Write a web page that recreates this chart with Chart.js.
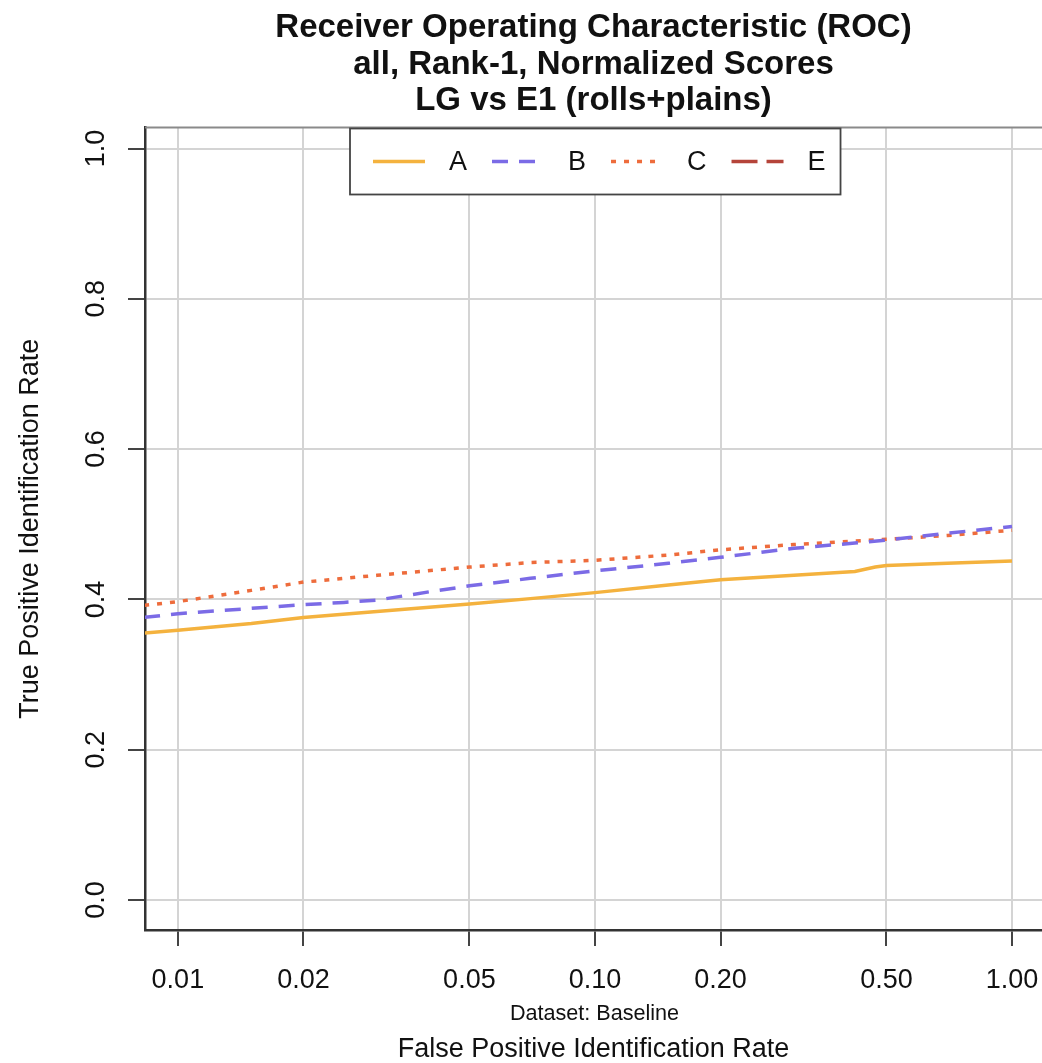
<!DOCTYPE html>
<html>
<head>
<meta charset="utf-8">
<script src="https://cdn.jsdelivr.net/npm/chart.js@4.4.1/dist/chart.umd.min.js"></script>
<style>html,body{margin:0;padding:0;background:#fff;}canvas{display:block;}</style>
</head>
<body>
<canvas id="c" width="1042" height="1063"></canvas>
<script>
// ---- Text ----
const titleLines = ['Receiver Operating Characteristic (ROC)', 'all, Rank-1, Normalized Scores', 'LG vs E1 (rolls+plains)'];
const xAxisTitle = 'False Positive Identification Rate';
const yAxisTitle = 'True Positive Identification Rate';
const datasetNote = 'Dataset: Baseline';
const seriesNames = ['A', 'B', 'C', 'E'];

// ---- Series values ----
const fpirA = [0.0083, 0.01, 0.015, 0.02, 0.03, 0.05, 0.07, 0.1, 0.15, 0.2, 0.3, 0.42, 0.47, 0.5, 0.7, 1.0];
const tpirA = [0.355, 0.359, 0.368, 0.376, 0.384, 0.394, 0.401, 0.409, 0.419, 0.426, 0.432, 0.437, 0.443, 0.445, 0.448, 0.451];

const fpirB = [0.0083, 0.01, 0.015, 0.02, 0.025, 0.03, 0.04, 0.05, 0.07, 0.1, 0.15, 0.2, 0.3, 0.42, 0.5, 0.7, 1.0];
const tpirB = [0.376, 0.381, 0.388, 0.393, 0.396, 0.399, 0.410, 0.418, 0.428, 0.438, 0.448, 0.456, 0.468, 0.475, 0.479, 0.488, 0.497];

const fpirC = [0.0083, 0.01, 0.015, 0.02, 0.03, 0.05, 0.07, 0.1, 0.15, 0.2, 0.3, 0.5, 0.7, 1.0];
const tpirC = [0.392, 0.397, 0.412, 0.423, 0.432, 0.443, 0.449, 0.452, 0.459, 0.466, 0.473, 0.480, 0.485, 0.492];

const fpirE = [];   // E appears only in the legend; no visible curve
const tpirE = [];

// ---- Tick labels ----
const xTickValues = [0.01, 0.02, 0.05, 0.1, 0.2, 0.5, 1.0];
const xTickLabels = ['0.01', '0.02', '0.05', '0.10', '0.20', '0.50', '1.00'];
const yTickValues = [0.0, 0.2, 0.4, 0.6, 0.8, 1.0];
const yTickLabels = ['0.0', '0.2', '0.4', '0.6', '0.8', '1.0'];

const FONT = '"Liberation Sans", Arial, Helvetica, sans-serif';
Chart.defaults.font.family = FONT;
Chart.defaults.color = '#111';

const toPoints = (xs, ys) => xs.map((x, i) => ({x: x, y: ys[i]}));

const styles = [
  {color: '#F4B23E', dash: []},
  {color: '#7B6BE6', dash: [16, 11]},
  {color: '#EE6C3C', dash: [5, 8]},
  {color: '#B5443A', dash: [26, 9]}
];
const seriesData = [toPoints(fpirA, tpirA), toPoints(fpirB, tpirB), toPoints(fpirC, tpirC), toPoints(fpirE, tpirE)];

const datasets = seriesNames.map((name, i) => ({
  label: name,
  data: seriesData[i],
  borderColor: styles[i].color,
  backgroundColor: styles[i].color,
  borderDash: styles[i].dash,
  borderWidth: 3.5,
  pointRadius: 0,
  pointHoverRadius: 0,
  tension: 0,
  fill: false,
  borderCapStyle: 'butt'
}));

const framePlugin = {
  id: 'frame',
  beforeDatasetsDraw(chart) {
    const {ctx, chartArea: a} = chart;
    ctx.save();
    ctx.strokeStyle = '#8a8a8a';
    ctx.lineWidth = 2;
    ctx.beginPath();
    ctx.moveTo(a.left, a.top);
    ctx.lineTo(a.right, a.top);
    ctx.stroke();
    ctx.restore();
  },
  afterDraw(chart) {
    const {ctx, chartArea: a} = chart;
    ctx.save();
    ctx.fillStyle = '#111';
    ctx.font = '21.6px ' + FONT;
    ctx.textAlign = 'center';
    ctx.textBaseline = 'middle';
    ctx.fillText(datasetNote, (a.left + a.right) / 2 + 1, 1014);
    ctx.restore();
  }
};

const boxLegend = {
  id: 'boxLegend',
  afterDatasetsDraw(chart) {
    const {ctx, chartArea: a} = chart;
    const ds = chart.data.datasets;
    ctx.save();
    ctx.font = '27px ' + FONT;
    const sampleLen = 52, sampleToText = 24, itemGap = 25, padL = 23, padR = 15;
    let w = padL + padR;
    ds.forEach((d, i) => {
      w += sampleLen + sampleToText + ctx.measureText(d.label).width;
      if (i < ds.length - 1) w += itemGap;
    });
    const cx = (a.left + a.right) / 2 + 1.5;
    const left = Math.round(cx - w / 2), top = a.top + 1, h = 66;
    ctx.fillStyle = '#fff';
    ctx.fillRect(left, top, w, h);
    ctx.strokeStyle = '#444';
    ctx.lineWidth = 1.8;
    ctx.strokeRect(left, top, w, h);
    const cy = top + h / 2;
    let x = left + padL;
    ds.forEach((d) => {
      ctx.strokeStyle = d.borderColor;
      ctx.lineWidth = 3.5;
      ctx.setLineDash(d.borderDash || []);
      ctx.beginPath();
      ctx.moveTo(x, cy);
      ctx.lineTo(x + sampleLen, cy);
      ctx.stroke();
      ctx.setLineDash([]);
      x += sampleLen + sampleToText;
      ctx.fillStyle = '#111';
      ctx.textAlign = 'left';
      ctx.textBaseline = 'middle';
      ctx.fillText(d.label, x, cy + 1);
      x += ctx.measureText(d.label).width + itemGap;
    });
    ctx.restore();
  }
};

new Chart(document.getElementById('c'), {
  type: 'line',
  data: {datasets: datasets},
  plugins: [framePlugin, boxLegend],
  options: {
    responsive: false,
    devicePixelRatio: 1,
    animation: false,
    events: [],
    layout: {padding: 0},
    plugins: {
      legend: {display: false},
      tooltip: {enabled: false},
      title: {
        display: true,
        text: titleLines,
        fullSize: false,
        color: '#111',
        font: {size: 33, weight: 'bold', family: FONT, lineHeight: 36.5 / 33},
        padding: {top: 10, bottom: 8}
      }
    },
    scales: {
      x: {
        type: 'logarithmic',
        position: 'bottom',
        min: 0.00834,
        max: 1.18,
        afterBuildTicks(scale) { scale.ticks = xTickValues.map(v => ({value: v})); },
        afterFit(scale) { scale.height = 133; scale.paddingLeft = 0; scale.paddingRight = 0; },
        ticks: {
          autoSkip: false,
          maxRotation: 0,
          minRotation: 0,
          padding: 18,
          color: '#111',
          font: {size: 27},
          callback: (v, i) => xTickLabels[i]
        },
        grid: {color: '#d4d4d4', lineWidth: 2, tickLength: 16, tickColor: '#444', tickWidth: 2},
        border: {display: true, color: '#333', width: 2.5},
        title: {display: true, text: xAxisTitle, color: '#111', font: {size: 27}, padding: {top: 0, bottom: -3}}
      },
      y: {
        type: 'linear',
        position: 'left',
        min: -0.04,
        max: 1.028,
        afterBuildTicks(scale) { scale.ticks = yTickValues.map(v => ({value: v})); },
        afterFit(scale) { scale.width = 145; scale.paddingTop = 0; scale.paddingBottom = 0; },
        ticks: {
          autoSkip: false,
          minRotation: 90,
          maxRotation: 90,
          crossAlign: 'center',
          padding: 13,
          color: '#111',
          font: {size: 27},
          callback: (v, i) => yTickLabels[i]
        },
        grid: {color: '#d4d4d4', lineWidth: 2, tickLength: 17, tickColor: '#444', tickWidth: 2},
        border: {display: true, color: '#333', width: 2.5},
        title: {display: true, text: yAxisTitle, color: '#111', font: {size: 27}, padding: {top: 14, bottom: 0}}
      }
    }
  }
});
</script>
</body>
</html>
